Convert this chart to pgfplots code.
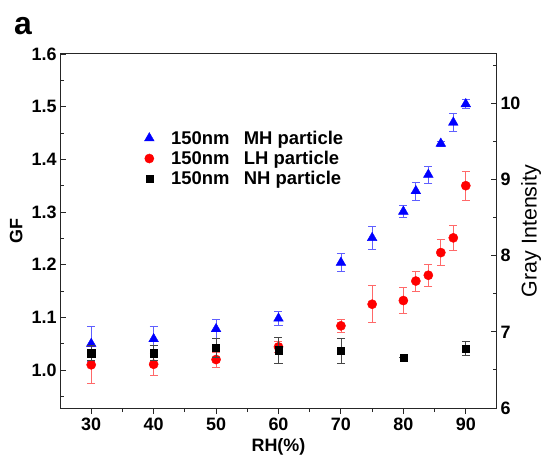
\documentclass[border=0pt]{standalone}
\usepackage{pgfplots}
\pgfplotsset{compat=1.18}
\usepackage{fontspec}
\setmainfont{Liberation Sans}

\definecolor{mhblue}{RGB}{0,0,255}
\definecolor{mherr}{RGB}{95,95,255}
\definecolor{lhred}{RGB}{255,0,0}
\definecolor{lherr}{RGB}{255,105,105}
\definecolor{nherr}{RGB}{70,70,70}

\pgfplotsset{
  common/.style={
    scale only axis, width=437bp, height=354bp,
    xmin=25, xmax=95,
    /pgf/number format/assume math mode=true,
    tick label style={font=\fontsize{18}{20}\selectfont\bfseries},
    label style={font=\fontsize{18}{20}\selectfont\bfseries},
    major tick length=6bp, minor tick length=4bp,
    tick style={line width=0.9bp, black!85},
  },
}

\begin{document}
\begin{tikzpicture}
\path[use as bounding box] (-60bp,-50bp) rectangle (488bp,408bp);

% GF axis (left): MH and LH particles
\begin{axis}[common,
  ymin=0.928, ymax=1.6,
  axis line style={line width=1bp, black!85},
  xtick={30,40,...,90}, minor xtick={35,45,...,85},
  xtick pos=bottom, xtick align=outside,
  ytick={1.0,1.1,1.2,1.3,1.4,1.5,1.6},
  minor ytick={0.95,1.05,1.15,1.25,1.35,1.45,1.55},
  ytick pos=left, ytick align=inside,
  yticklabel style={/pgf/number format/.cd, fixed, fixed zerofill, precision=1},
  xlabel={RH(\%)}, ylabel={GF},
  xlabel style={at={(axis description cs:0.5,-0.110)}, anchor=center},
  ylabel style={at={(axis description cs:-0.100,0.5)}, anchor=center},
  legend style={at={(0.186,0.795)}, anchor=north west, draw=none, fill=none,
    font=\fontsize{18.5}{20}\selectfont\bfseries, row sep=1.5bp},
  legend cell align=left,
]
\addplot[only marks, mark=triangle*, mark size=5.6bp, color=mhblue,
  error bars/.cd, y dir=both, y explicit,
  error bar style={mherr, line width=0.8bp},
  error mark options={rotate=90, mherr, mark size=4bp, line width=0.8bp}]
  coordinates {
  (30,1.050) +- (0,0.033)
  (40,1.059) +- (0,0.024)
  (50,1.078) +- (0,0.018)
  (60,1.098) +- (0,0.014)
  (70,1.204) +- (0,0.017)
  (75,1.251) +- (0,0.021)
  (80,1.301) +- (0,0.012)
  (82,1.340) +- (0,0.017)
  (84,1.371) +- (0,0.016)
  (86,1.430) +- (0,0.005)
  (88,1.470) +- (0,0.017)
  (90,1.505) +- (0,0.008)
  };
\addlegendentry{\hspace{15bp}150nm\hspace{0.5em} MH particle}
\addplot[only marks, mark=*, mark size=4.6bp, color=lhred,
  error bars/.cd, y dir=both, y explicit,
  error bar style={lherr, line width=0.8bp},
  error mark options={rotate=90, lherr, mark size=4bp, line width=0.8bp}]
  coordinates {
  (30,1.010) +- (0,0.035)
  (40,1.011) +- (0,0.021)
  (50,1.020) +- (0,0.014)
  (60,1.044) +- (0,0.010)
  (70,1.084) +- (0,0.013)
  (75,1.125) +- (0,0.035)
  (80,1.132) +- (0,0.025)
  (82,1.169) +- (0,0.019)
  (84,1.180) +- (0,0.021)
  (86,1.223) +- (0,0.025)
  (88,1.251) +- (0,0.024)
  (90,1.350) +- (0,0.027)
  };
\addlegendentry{\hspace{15bp}150nm\hspace{0.5em} LH particle}
\addlegendimage{only marks, mark=square*, mark size=3.5bp, color=black}
\addlegendentry{\hspace{15bp}150nm\hspace{0.5em} NH particle}
\end{axis}

% Gray intensity axis (right): NH particles
\begin{axis}[common,
  ymin=6, ymax=10.65,
  hide x axis,
  axis line style={draw=none},
  ytick={6,7,8,9,10}, minor ytick={6.5,7.5,8.5,9.5,10.5},
  ytick pos=right, yticklabel pos=right, ytick align=inside,
  ylabel={Gray Intensity},
  ylabel style={at={(axis description cs:1.078,0.5)}, anchor=center,
    font=\fontsize{21.5}{24}\selectfont\mdseries},
]
\addplot[only marks, mark=square*, mark size=3.6bp, color=black,
  error bars/.cd, y dir=both, y explicit,
  error bar style={nherr, line width=0.8bp},
  error mark options={rotate=90, nherr, mark size=4bp, line width=0.8bp}]
  coordinates {
  (30,6.72) +- (0,0.10)
  (40,6.72) +- (0,0.10)
  (50,6.79) +- (0,0.12)
  (60,6.76) +- (0,0.17)
  (70,6.75) +- (0,0.17)
  (80,6.66) +- (0,0.00)
  (90,6.78) +- (0,0.09)
  };
\end{axis}

\node[anchor=base, inner sep=0pt, font=\fontsize{32}{32}\selectfont\bfseries]
  at (-37bp,373bp) {a};
\end{tikzpicture}
\end{document}
